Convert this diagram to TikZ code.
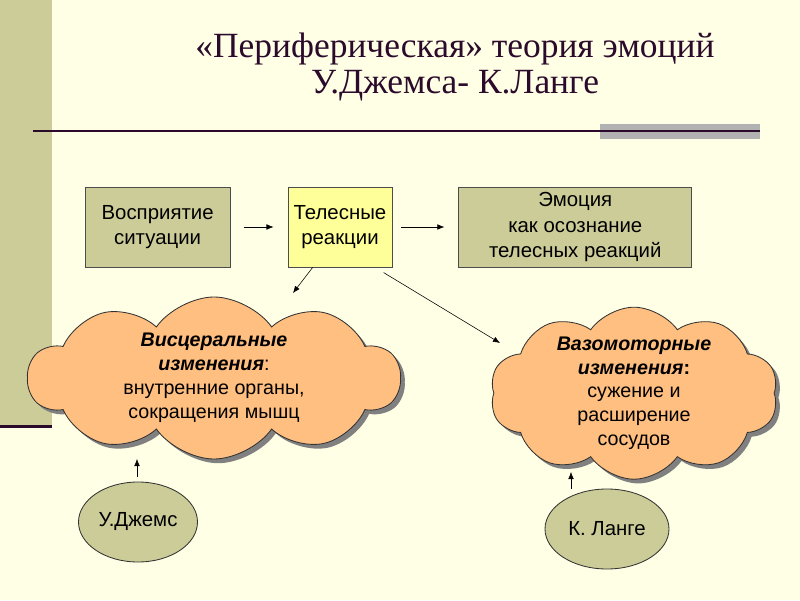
\documentclass[tikz,border=0pt]{standalone}
\usepackage{fontspec}
\setmainfont{Liberation Sans}
\newfontfamily\titlefont{Liberation Serif}
\usetikzlibrary{arrows.meta,positioning,shapes.symbols,shapes.geometric,shadows}

\definecolor{bgyellow}{HTML}{FFFFE5}
\definecolor{khaki}{HTML}{CCCC99}
\definecolor{paleyellow}{HTML}{FFFF99}
\definecolor{peach}{HTML}{FFBF80}
\definecolor{ruledark}{HTML}{2B0A2B}
\definecolor{bargray}{HTML}{B2B2B2}

\begin{document}
\begin{tikzpicture}[
        box/.style={
          draw=black!70,
          line width=0.6pt,
          align=center,
          inner sep=0pt,
          minimum height=2cm,
          font=\fontsize{14.5}{17.8}\selectfont
        },
        puff/.style={
          cloud,
          cloud puffs=10,
          cloud puff arc=110,
          cloud ignores aspect,
          draw=black!80,
          fill=peach,
          line width=0.6pt,
          inner xsep=0pt,
          inner ysep=-0.9cm,
          align=center,
          font=\fontsize{14}{17}\selectfont,
          drop shadow={shadow xshift=3pt, shadow yshift=-3pt, fill=black!50, opacity=1}
        },
        person/.style={
          ellipse,
          draw=black!80,
          fill=khaki,
          line width=0.6pt,
          inner sep=0pt,
          minimum height=2cm,
          font=\fontsize{14.5}{17}\selectfont
        },
        >={Latex[length=5pt,width=4pt]}
      ]

        % background and slide decoration
        \useasboundingbox (0,0) rectangle (20,15);
        \fill[bgyellow] (0,0) rectangle (20,15);
        \fill[khaki] (0,4.375) rectangle (1.3,15);
        \draw[ruledark, line width=2pt] (0,4.33) -- (1.3,4.33);
        \fill[bargray] (15,11.525) rectangle (19,11.9);
        \draw[ruledark, line width=1pt] (0.825,11.73) -- (19,11.73);

        \node[font=\titlefont\fontsize{25.2}{25.6}\selectfont, align=center, text=ruledark] (title) at (11.375,13.33)
          {«Периферическая» теория эмоций\\У.Джемса- К.Ланге};

        % top row
        \node[box, fill=khaki, minimum width=3.625cm] (vosp) at (3.94,9.325) {Восприятие\\ситуации};
        \node[box, fill=paleyellow, minimum width=2.6cm, right=1.425cm of vosp] (tel) {Телесные\\ реакции};
        \node[box, fill=khaki, minimum width=5.825cm, right=1.65cm of tel] (emo) {Эмоция\\как осознание\\телесных реакций};

        \draw[->, shorten <=0.325cm, shorten >=0.35cm] (vosp) -- (tel);
        \draw[->, shorten <=0.225cm, shorten >=0.35cm] (tel) -- (emo);

        % clouds
        \node[puff, minimum width=9.3cm, minimum height=4.05cm] (visc) at (5.35,5.55)
          {\textbf{\textit{Висцеральные}}\\\textbf{\textit{изменения}}:\\внутренние органы,\\сокращения мышц};
        \node[puff, minimum width=7.2cm, minimum height=4.3cm] (vaso) at (15.85,5.17)
          {\textbf{\textit{Вазомоторные}}\\\textbf{\textit{изменения}:}\\сужение и\\расширение\\сосудов};

        \coordinate (visctip) at (7.325,7.675);
        \coordinate (vasotip) at (12.5,6.425);
        \draw[->] (tel.-124) -- (visctip);
        \draw[->, shorten <=0.25cm] (tel.-49) -- (vasotip);

        % authors
        \node[person, minimum width=2.975cm] (jems) at (3.45,1.95) {У.Джемс};
        \node[person, minimum width=3.1cm] (lange) at (15.175,1.775) {К. Ланге};

        \coordinate (jemstip) at (3.425,3.525);
        \coordinate (langetip) at (14.275,3.2);
        \draw[->, shorten <=0.12cm] (jemstip |- jems.north) -- (jemstip);
        \draw[->] (langetip |- lange.north) -- (langetip);

      \end{tikzpicture}
\end{document}
